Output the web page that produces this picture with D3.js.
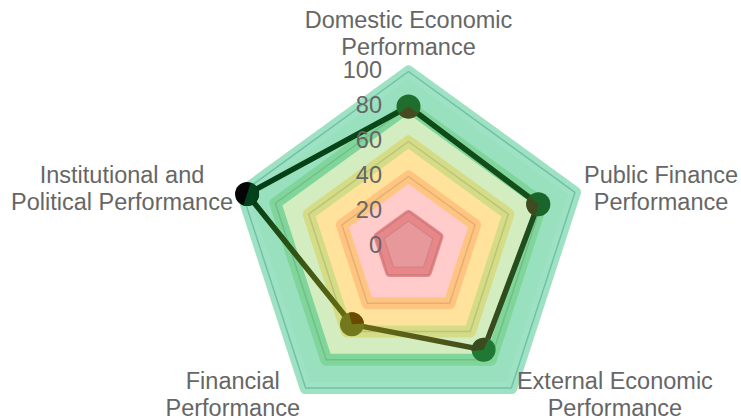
<!DOCTYPE html>
<html>
<head>
<meta charset="utf-8">
<script src="https://cdn.jsdelivr.net/npm/d3@7"></script>
<style>
  html, body { margin: 0; padding: 0; background: #fff; }
  svg { display: block; }
  text { font-family: "Liberation Sans", Arial, Helvetica, sans-serif; fill: #666; }
</style>
</head>
<body>
<svg id="chart" width="741" height="418"></svg>
<script>
// ---- data ----
const categories = [
  ["Domestic Economic", "Performance"],
  ["Public Finance", "Performance"],
  ["External Economic", "Performance"],
  ["Financial", "Performance"],
  ["Institutional and", "Political Performance"]
];
const scores = [80, 78, 73, 55, 97];
const bandLevels = [100, 80, 60, 40, 18];
const bandFills = ["#98e0be", "#d3edc0", "#ffe39c", "#ffcbcb", "#e6989b"];
const bandStrokes = ["#9fe2c3", "#7fd59a", "#d5dc86", "#ffc580", "#e8878a"];
const gridLevels = [20, 40, 60, 80, 100];
const tickValues = [0, 20, 40, 60, 80, 100];
const pointColors = ["#1f6e2e", "#1a6529", "#1f7833", "#74781d", "#050505"];
const wedgeColors = ["#474a1f", "#3f4a20", "#3b4a1f", "#6a4a00", "#00421c"];
const wedgeHalf = [55, 60, 60, 50, 90];
const lineColors = ["#0c4a16", "#164f1c", "#3d4a1f", "#6d6d12", "#003d16"];

// ---- layout ----
const W = 741, H = 418;
const cx = 408.5, cy = 246.5, R = 175;
const fs = 23.5, lh = 27;
const svg = d3.select("#chart");
const r = d3.scaleLinear().domain([0, 100]).range([0, R]);
const n = categories.length;
const angle = d3.scaleLinear().domain([0, n]).range([0, 2 * Math.PI]);

function pt(i, v) {
  const a = angle(i);
  return [cx + r(v) * Math.sin(a), cy - r(v) * Math.cos(a)];
}
function polyPath(v) {
  return "M" + d3.range(n).map(i => pt(i, v).join(",")).join("L") + "Z";
}

const g = svg.append("g");

// bands (outer to inner)
bandLevels.forEach((v, k) => {
  g.append("path")
    .attr("d", polyPath(v))
    .attr("fill", bandFills[k])
    .attr("stroke", bandStrokes[k])
    .attr("stroke-width", k === 4 ? 10 : 12)
    .attr("stroke-linejoin", "round");
});
// inner outline of the centre band
g.append("path")
  .attr("d", polyPath(bandLevels[4] - 3.3))
  .attr("fill", "none")
  .attr("stroke", "#d78487")
  .attr("stroke-width", 1.5)
  .attr("stroke-linejoin", "round");

// grid lines
gridLevels.forEach(v => {
  g.append("path")
    .attr("d", polyPath(v))
    .attr("fill", "none")
    .attr("stroke", v === 100 ? "#6fc2aa" : "rgba(60,70,60,0.16)")
    .attr("stroke-width", 1.5)
    .attr("stroke-linejoin", "round");
});

// data line segments with gradients
const defs = svg.append("defs");
scores.forEach((v, i) => {
  const j = (i + 1) % n;
  const p0 = pt(i, v), p1 = pt(j, scores[j]);
  const gid = "seg" + i;
  const lg = defs.append("linearGradient")
    .attr("id", gid).attr("gradientUnits", "userSpaceOnUse")
    .attr("x1", p0[0]).attr("y1", p0[1]).attr("x2", p1[0]).attr("y2", p1[1]);
  lg.append("stop").attr("offset", "0%").attr("stop-color", lineColors[i]);
  lg.append("stop").attr("offset", "100%").attr("stop-color", lineColors[j]);
  g.append("line")
    .attr("x1", p0[0]).attr("y1", p0[1]).attr("x2", p1[0]).attr("y2", p1[1])
    .attr("stroke", `url(#${gid})`)
    .attr("stroke-width", 5.5)
    .attr("stroke-linecap", "round");
});

// markers
const mr = 12;
scores.forEach((v, i) => {
  const p = pt(i, v);
  const mg = g.append("g").attr("transform", `translate(${p[0]},${p[1]})`);
  mg.append("circle").attr("r", mr).attr("fill", pointColors[i]);
  const dir = angle(i) + Math.PI;
  const h = wedgeHalf[i] * Math.PI / 180;
  mg.append("path")
    .attr("d", d3.arc()({ innerRadius: 0, outerRadius: mr, startAngle: dir - h, endAngle: dir + h }))
    .attr("fill", wedgeColors[i]);
});

// tick labels
g.selectAll("text.tick").data(tickValues).join("text")
  .attr("class", "tick")
  .attr("x", cx - 26.5)
  .attr("y", d => cy - r(d) + 0.285 * fs)
  .attr("text-anchor", "end")
  .style("font-size", fs + "px")
  .text(d => d);

// point labels
const pad = 9.5;
categories.forEach((lines, i) => {
  const a = angle(i);
  const ax = cx + (R + pad) * Math.sin(a);
  const ay = cy - (R + pad) * Math.cos(a);
  const lg = g.append("g");
  const texts = lines.map(t => lg.append("text").style("font-size", fs + "px").attr("text-anchor", "middle").text(t));
  const bw = d3.max(texts, t => t.node().getComputedTextLength());
  const sx = Math.sin(a);
  let centerX;
  if (Math.abs(sx) < 0.01) centerX = ax;
  else if (sx > 0) centerX = ax + bw / 2;
  else centerX = ax - bw / 2;
  const m = lines.length;
  let midY;
  if (Math.abs(sx) < 0.01 && Math.cos(a) > 0) midY = ay - m * lh / 2; // top: block bottom at anchor
  else midY = ay;
  texts.forEach((t, k) => {
    const lineMid = midY + (k - (m - 1) / 2) * lh;
    t.attr("x", centerX).attr("y", lineMid + 0.285 * fs);
  });
});
</script>
</body>
</html>
